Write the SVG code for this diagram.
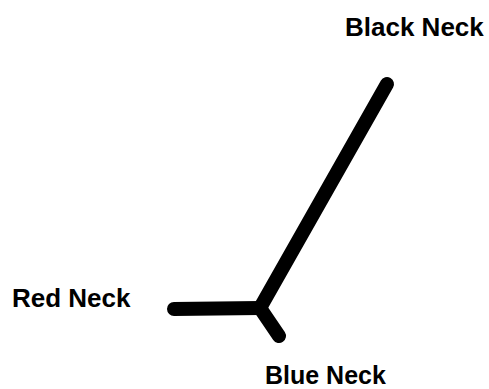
<svg xmlns="http://www.w3.org/2000/svg" width="489" height="389" viewBox="0 0 489 389">
<style>
.lbl{font-family:"Liberation Sans",Arial,sans-serif;font-weight:bold;font-size:26px;fill:#000}
.leg{stroke:#000;stroke-width:14;stroke-linecap:round;stroke-linejoin:round;fill:none}
</style>
<rect width="489" height="389" fill="#fff"/>
<g id="connectors">
<line class="leg" x1="387" y1="84" x2="260" y2="308"/>
<line class="leg" x1="260" y1="308" x2="174" y2="309"/>
<line class="leg" x1="260" y1="308" x2="279" y2="336"/>
</g>
<g id="black-neck"><text class="lbl" x="345" y="36">Black Neck</text></g>
<g id="red-neck"><text class="lbl" x="12" y="307">Red Neck</text></g>
<g id="blue-neck"><text class="lbl" x="265" y="384" style="font-size:25px">Blue Neck</text></g>
</svg>
